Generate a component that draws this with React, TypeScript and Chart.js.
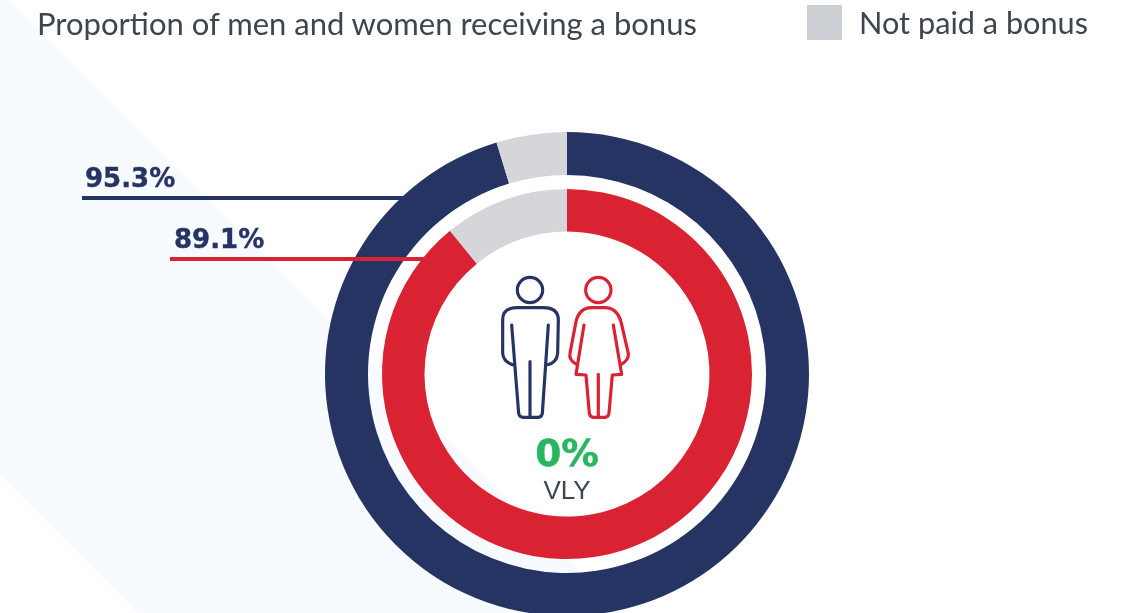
import React, { useEffect, useRef } from "react";
import { Chart, registerables } from "chart.js";

Chart.register(...registerables);

const categories = ["Paid a bonus", "Not paid a bonus"];
const menValues = [95.3, 4.7];
const gapValues = [1];
const womenValues = [89.1, 10.9];
const titleText = "Proportion of men and women receiving a bonus";
const legendText = "Not paid a bonus";
const menLabel = "95.3%";
const womenLabel = "89.1%";
const centreValue = "0%";
const centreLabel = "VLY";

const NAVY = "#263464";
const RED = "#D92232";
const GREY = "#D4D6D9";
const TEXT = "#3B4650";

const abs = (left: number, top: number, extra: React.CSSProperties = {}): React.CSSProperties => ({
  position: "absolute",
  left,
  top,
  lineHeight: 1,
  whiteSpace: "nowrap",
  ...extra,
});

export default function App() {
  const ref = useRef<HTMLCanvasElement>(null);

  useEffect(() => {
    document.body.style.margin = "0";
    const chart = new Chart(ref.current!, {
      type: "doughnut",
      data: {
        labels: categories,
        datasets: [
          { data: menValues, backgroundColor: [NAVY, GREY], borderWidth: 0, weight: 43 },
          { data: gapValues, backgroundColor: ["rgba(0,0,0,0)"], borderWidth: 0, weight: 14 },
          { data: womenValues, backgroundColor: [RED, GREY], borderWidth: 0, weight: 42.5 },
        ],
      },
      options: {
        animation: false,
        responsive: false,
        cutout: 142.5,
        layout: { padding: { left: 325, right: 325, top: 132, bottom: 132 } },
        plugins: { legend: { display: false }, tooltip: { enabled: false } },
      },
    });
    return () => chart.destroy();
  }, []);

  const labelFont = "'DejaVu Sans', sans-serif";
  return (
    <div style={{ position: "relative", width: 1129, height: 613, overflow: "hidden", background: "#fff", fontFamily: "Lato, sans-serif" }}>
      <svg width={1129} height={613} style={{ position: "absolute", left: 0, top: 0 }}>
        <polygon points="0,0 9,0 622,613 138,613 0,475" fill="#F7FBFF" />
      </svg>
      <canvas ref={ref} width={1134} height={748} style={{ position: "absolute", left: 0, top: 0, width: 1134, height: 748 }} />
      <svg width={1129} height={613} style={{ position: "absolute", left: 0, top: 0 }}>
        <line x1={82} y1={198} x2={404} y2={198} stroke={NAVY} strokeWidth={4} />
        <line x1={170} y1={259} x2={424} y2={259} stroke={RED} strokeWidth={4} />
        <rect x={807} y={5} width={35} height={35} fill="#CCD0D4" />
        <g transform="translate(490,265) scale(0.3333)" fill="none" strokeWidth={9.5} strokeLinejoin="round" strokeLinecap="round">
          <g stroke={NAVY}>
            <circle cx={120} cy={75} r={38} />
            <path d="M70,300 Q40,290 38,265 L38,165 Q38,128 80,128 L160,128 Q205,128 205,165 L203,265 Q200,295 170,300" />
            <path d="M65,180 L86,445 Q88,457 100,457 L145,457 Q155,457 157,445 L175,180" />
            <path d="M120,290 V457" />
          </g>
          <g stroke={RED}>
            <circle cx={325} cy={75} r={38} />
            <path d="M262,300 Q235,285 240,265 L258,170 Q268,128 305,128 L345,128 Q380,128 393,170 L415,265 Q418,285 392,300" />
            <path d="M282,180 L258,328 L288,330 L298,445 Q300,457 310,457 L345,457 Q355,457 357,445 L367,330 L395,328 L370,180" />
            <path d="M325,328 V457" />
          </g>
        </g>
      </svg>
      <div style={abs(37, 8, { fontSize: 31, color: TEXT })}>{titleText}</div>
      <div style={abs(859, 8, { fontSize: 30.7, color: TEXT })}>{legendText}</div>
      <div style={abs(85, 165, { fontSize: 26, fontWeight: 700, color: NAVY, fontFamily: labelFont, WebkitTextStroke: `0.4px ${NAVY}` })}>{menLabel}</div>
      <div style={abs(174, 226, { fontSize: 26, fontWeight: 700, color: NAVY, fontFamily: labelFont, WebkitTextStroke: `0.4px ${NAVY}` })}>{womenLabel}</div>
      <div style={abs(467, 435, { width: 200, textAlign: "center", fontSize: 37.5, fontWeight: 700, color: "#2AB560", fontFamily: labelFont, WebkitTextStroke: "0.5px #2AB560" })}>{centreValue}</div>
      <div style={abs(467, 477, { width: 200, textAlign: "center", fontSize: 26, color: TEXT, fontFamily: "'Liberation Sans', sans-serif" })}>{centreLabel}</div>
    </div>
  );
}
